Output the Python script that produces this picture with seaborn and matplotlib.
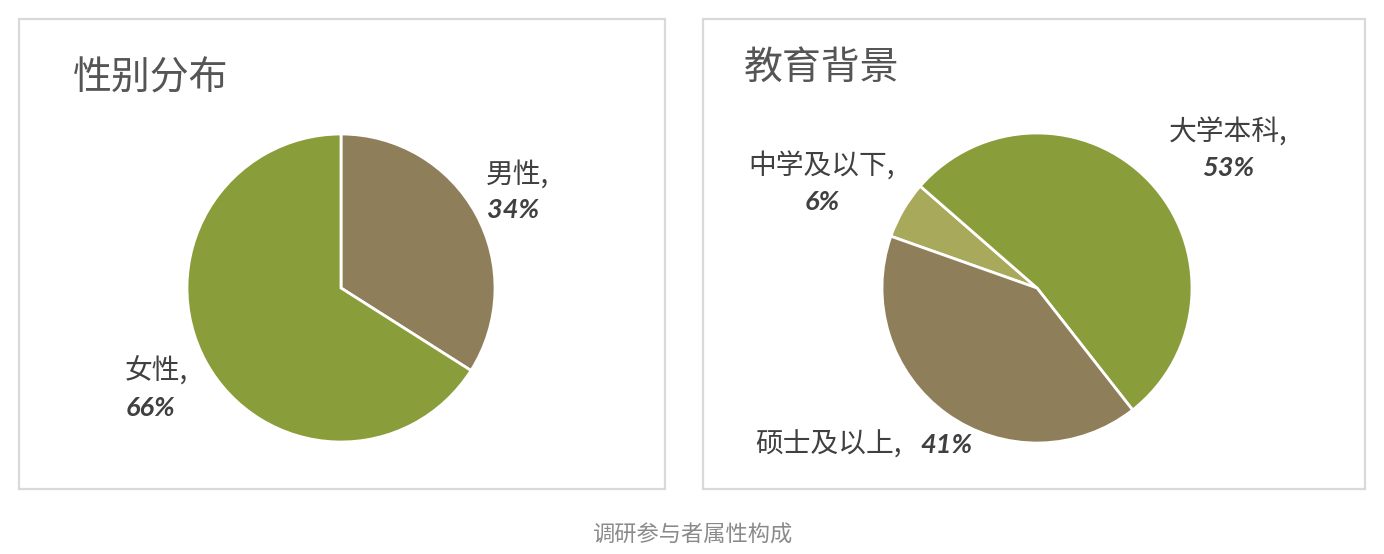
import matplotlib
matplotlib.use("Agg")
import matplotlib.pyplot as plt
from matplotlib.patches import Rectangle
import seaborn as sns

# ---- data ----
gender_labels = ["男性", "女性"]
gender_values = [34, 66]
edu_labels = ["中学及以下", "大学本科", "硕士及以上"]
edu_values = [6, 53, 41]
title_gender = "性别分布"
title_edu = "教育背景"
caption = "调研参与者属性构成"

sns.set_theme(style="white")
plt.rcParams['font.family'] = ['Noto Sans CJK SC', 'DejaVu Sans']

GREEN = "#8A9D3B"
BROWN = "#8F7E5A"
OLIVE = "#A9A95B"
gender_colors = sns.color_palette([BROWN, GREEN])
edu_colors = sns.color_palette([OLIVE, GREEN, BROWN])

W, H = 1384, 554
fig = plt.figure(figsize=(W / 100, H / 100), dpi=100)
fig.patch.set_facecolor("white")


def fx(px):
    return px / W


def fy(py):
    return 1 - py / H


# panel borders
for (x0, y0, x1, y1) in [(19, 19, 665, 489), (703, 19, 1365, 489)]:
    fig.add_artist(Rectangle((fx(x0), fy(y1)), fx(x1) - fx(x0), fy(y0) - fy(y1),
                             transform=fig.transFigure, fill=False,
                             edgecolor="#d9d9d9", linewidth=1.6))


def pie_axes(cx, cy, r):
    ax = fig.add_axes([fx(cx - r), fy(cy + r), 2 * r / W, 2 * r / H])
    ax.axis("off")
    return ax


def fix_limits(ax):
    ax.set_xlim(-1, 1)
    ax.set_ylim(-1, 1)
    ax.set_aspect("equal")


ax1 = pie_axes(341, 288, 154)
ax1.pie(gender_values, colors=gender_colors, startangle=90, counterclock=False,
        radius=1, wedgeprops=dict(edgecolor="white", linewidth=2))
fix_limits(ax1)

ax2 = pie_axes(1037, 288, 155)
ax2.pie(edu_values, colors=edu_colors, startangle=160.5, counterclock=False,
        radius=1, wedgeprops=dict(edgecolor="white", linewidth=2))
fix_limits(ax2)

TXT = "#404040"
TITLE = "#555555"
name_kw = dict(fontsize=20, color=TXT, transform=fig.transFigure, va="center")
pct_kw = dict(fontsize=19.5, color=TXT, transform=fig.transFigure, va="center",
              family=["Lato", "DejaVu Sans"], style="italic", weight="bold")

# titles
fig.text(fx(73), fy(78), title_gender, fontsize=28, color=TITLE, va="center", ha="left",
         weight="medium")
fig.text(fx(744), fy(68), title_edu, fontsize=28, color=TITLE, va="center", ha="left",
         weight="medium")

# gender labels
fig.text(fx(486), fy(175), gender_labels[0] + ",", ha="left", **name_kw)
fig.text(fx(487), fy(210), f"{gender_values[0]}%", ha="left", **pct_kw)
fig.text(fx(125), fy(372), gender_labels[1] + ",", ha="left", **name_kw)
fig.text(fx(126), fy(408), f"{gender_values[1]}%", ha="left", **pct_kw)

# education labels
fig.text(fx(822), fy(167), edu_labels[0] + ",", ha="center", **name_kw)
fig.text(fx(822), fy(202), f"{edu_values[0]}%", ha="center", **pct_kw)
fig.text(fx(1228), fy(133), edu_labels[1] + ",", ha="center", **name_kw)
fig.text(fx(1228), fy(168), f"{edu_values[1]}%", ha="center", **pct_kw)
fig.text(fx(755), fy(445), edu_labels[2] + ",", ha="left", **name_kw)
fig.text(fx(920), fy(445), f"{edu_values[2]}%", ha="left", **pct_kw)

# caption
fig.text(0.5, fy(535), caption, fontsize=16, color="#8a8a8a", ha="center", va="center")

fig.savefig("out.png", dpi=100, facecolor="white")
